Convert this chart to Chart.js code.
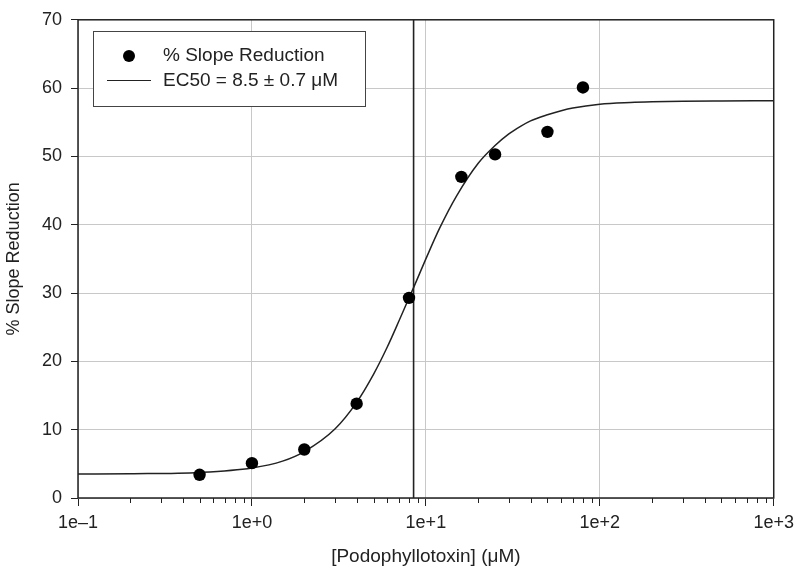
<!DOCTYPE html>
<html>
<head>
<meta charset="utf-8">
<script src="https://cdn.jsdelivr.net/npm/chart.js@4.4.1/dist/chart.umd.min.js"></script>
<style>
html,body{margin:0;padding:0;background:#fff;}
#wrap{width:800px;height:573px;position:relative;}
</style>
</head>
<body>
<div id="wrap"><canvas id="c" width="800" height="573"></canvas></div>
<script>
// Measured data points
const concentrations = [0.5, 1, 2, 4, 8, 16, 25, 50, 80];
const slopeReduction = [3.4, 5.1, 7.1, 13.8, 29.3, 47.0, 50.3, 53.6, 60.1];

// Fitted curve
const fitX = [0.1, 0.2, 0.5, 1, 1.5, 2, 3, 4, 5, 6, 7, 8, 8.5, 10, 12, 15, 20, 25, 30, 35, 40, 50, 60, 70, 100, 150, 200, 300, 500, 1000];
const fitY = [3.5, 3.55, 3.75, 4.4, 5.4, 6.8, 10.1, 14.0, 18.1, 22.1, 25.9, 29.3, 30.8, 35.0, 39.5, 44.2, 49.0, 51.6, 53.3, 54.4, 55.2, 56.1, 56.7, 57.1, 57.65, 57.9, 58.0, 58.08, 58.12, 58.15];

const ec50 = 8.5;

const xTickValues = [0.1, 1, 10, 100, 1000];
const xTickLabels = ["1e\u20131", "1e+0", "1e+1", "1e+2", "1e+3"];
const yTickValues = [0, 10, 20, 30, 40, 50, 60, 70];

const legendLabels = ["% Slope Reduction", "EC50 = 8.5 \u00b1 0.7 \u03bcM"];
const xTitle = "[Podophyllotoxin] (\u03bcM)";
const yTitle = "% Slope Reduction";

const FONT = "'Liberation Sans', Arial, sans-serif";
const INK = '#222';

const framePlugin = {
  id: 'frame',
  afterDraw(chart) {
    const {ctx, chartArea: a, scales} = chart;
    const xs = scales.x;
    ctx.save();
    // minor ticks
    ctx.strokeStyle = INK;
    ctx.lineWidth = 1;
    ctx.beginPath();
    for (let k = 0; k < xTickValues.length - 1; k++) {
      for (let m = 2; m <= 9; m++) {
        const v = xTickValues[k] * m;
        const px = Math.round(xs.getPixelForValue(v)) + 0.5;
        ctx.moveTo(px, a.bottom);
        ctx.lineTo(px, a.bottom + 5);
      }
    }
    ctx.stroke();
    // frame
    ctx.strokeStyle = INK;
    ctx.lineWidth = 1.5;
    ctx.strokeRect(a.left, a.top, a.right - a.left, a.bottom - a.top);
    // legend
    const bx = 93, by = 31, bw = 272, bh = 75;
    ctx.fillStyle = '#fff';
    ctx.fillRect(bx, by, bw, bh);
    ctx.strokeStyle = '#444';
    ctx.lineWidth = 1;
    ctx.strokeRect(bx + 0.5, by + 0.5, bw, bh);
    ctx.fillStyle = '#000';
    ctx.beginPath();
    ctx.arc(129, 56, 6, 0, Math.PI * 2);
    ctx.fill();
    ctx.strokeStyle = INK;
    ctx.lineWidth = 1.2;
    ctx.beginPath();
    ctx.moveTo(107, 80.5);
    ctx.lineTo(151, 80.5);
    ctx.stroke();
    ctx.fillStyle = INK;
    ctx.font = '19px ' + FONT;
    ctx.textBaseline = 'middle';
    ctx.textAlign = 'left';
    ctx.fillText(legendLabels[0], 163, 56);
    ctx.fillText(legendLabels[1], 163, 81);
    ctx.restore();
  }
};

new Chart(document.getElementById('c'), {
  data: {
    datasets: [
      {
        type: 'line',
        label: 'ec50',
        data: [{x: ec50, y: 0}, {x: ec50, y: 70}],
        borderColor: '#222',
        borderWidth: 1.6,
        pointRadius: 0,
        order: 3
      },
      {
        type: 'line',
        label: legendLabels[1],
        data: fitX.map((x, i) => ({x: x, y: fitY[i]})),
        borderColor: INK,
        borderWidth: 1.5,
        pointRadius: 0,
        cubicInterpolationMode: 'monotone',
        order: 2
      },
      {
        type: 'scatter',
        label: legendLabels[0],
        data: concentrations.map((x, i) => ({x: x, y: slopeReduction[i]})),
        backgroundColor: '#000',
        borderColor: '#000',
        borderWidth: 0,
        pointRadius: 6.2,
        order: 1
      }
    ]
  },
  options: {
    responsive: false,
    animation: false,
    layout: {padding: {top: 12, right: 26, left: 0, bottom: 0}},
    plugins: {legend: {display: false}, tooltip: {enabled: false}},
    scales: {
      x: {
        type: 'logarithmic',
        min: 0.1,
        max: 1000,
        afterBuildTicks(scale) { scale.ticks = xTickValues.map(v => ({value: v})); },
        afterFit(scale) { scale.height = 75; },
        ticks: {
          callback(value, index) { return xTickLabels[index]; },
          font: {family: FONT, size: 18},
          color: INK,
          padding: 6,
          maxRotation: 0,
          autoSkip: false
        },
        grid: {color: '#c8c8c8', lineWidth: 1, tickColor: INK, tickLength: 8, drawTicks: true},
        border: {display: false},
        title: {display: true, text: xTitle, font: {family: FONT, size: 19}, color: INK, padding: {top: 0, bottom: 5}}
      },
      y: {
        min: 0,
        max: 70,
        afterBuildTicks(scale) { scale.ticks = yTickValues.map(v => ({value: v})); },
        afterFit(scale) { scale.width = 78; },
        ticks: {
          font: {family: FONT, size: 18},
          color: INK,
          padding: 9
        },
        grid: {color: '#c8c8c8', lineWidth: 1, tickColor: INK, tickLength: 7, drawTicks: true},
        border: {display: false},
        title: {display: true, text: yTitle, font: {family: FONT, size: 18}, color: INK, padding: {top: 3, bottom: 0}}
      }
    }
  },
  plugins: [framePlugin]
});
</script>
</body>
</html>
